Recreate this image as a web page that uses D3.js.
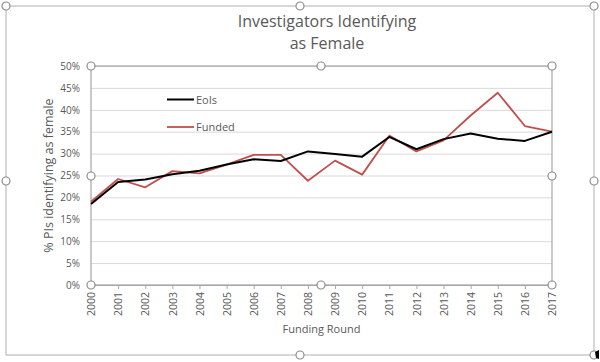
<!DOCTYPE html>
<html>
<head>
<meta charset="utf-8">
<script src="https://cdn.jsdelivr.net/npm/d3@7"></script>
<style>
  body { margin: 0; background: #fff; }
  svg { display: block; font-family: "Open Sans", "Liberation Sans", sans-serif; }
</style>
</head>
<body>
<div id="chart"></div>
<script>
// values (percent)
var years = ["2000","2001","2002","2003","2004","2005","2006","2007","2008","2009",
             "2010","2011","2012","2013","2014","2015","2016","2017"];
var eois   = [18.5, 23.5, 24.1, 25.3, 26.1, 27.5, 28.7, 28.3, 30.5, 29.9,
              29.3, 33.8, 31.0, 33.3, 34.6, 33.4, 32.9, 35.0];
var funded = [19.0, 24.2, 22.3, 26.0, 25.5, 27.5, 29.7, 29.7, 23.8, 28.4,
              25.2, 34.1, 30.5, 33.0, 38.7, 43.9, 36.3, 35.0];
var yTicks = [0, 5, 10, 15, 20, 25, 30, 35, 40, 45, 50];
var seriesNames = ["EoIs", "Funded"];

var W = 600, H = 362;
var grey = "#595959";

var svg = d3.select("#chart").append("svg").attr("width", W).attr("height", H);

// plot area
var pLeft = 91, pRight = 552, pTop = 66, pBottom = 285;

var x = d3.scalePoint().domain(years).range([pLeft, pRight]);
var y = d3.scaleLinear().domain([0, 50]).range([pBottom, pTop]);

// outer chart frame
svg.append("rect")
  .attr("x", 6).attr("y", 6).attr("width", 588).attr("height", 349)
  .attr("fill", "none").attr("stroke", "#b0b0b0").attr("stroke-width", 1);

// gridlines
svg.append("g").selectAll("line")
  .data(yTicks)
  .enter().append("line")
  .attr("x1", pLeft).attr("x2", pRight)
  .attr("y1", function(d) { return y(d) + 0.5; })
  .attr("y2", function(d) { return y(d) + 0.5; })
  .attr("stroke", "#d9d9d9").attr("stroke-width", 1);

// plot area border (selected)
svg.append("rect")
  .attr("x", pLeft).attr("y", pTop).attr("width", pRight - pLeft).attr("height", pBottom - pTop)
  .attr("fill", "none").attr("stroke", "#a6a6a6").attr("stroke-width", 1.2);

// y axis labels
var yAxis = d3.axisLeft(y).tickValues(yTicks).tickSize(0).tickPadding(11)
  .tickFormat(function(d) { return d + "%"; });
var gy = svg.append("g").attr("transform", "translate(" + pLeft + ",0)").call(yAxis);
gy.select(".domain").remove();
gy.selectAll("text").attr("fill", grey).attr("font-size", "10px")
  .attr("font-family", "'Open Sans', sans-serif");

// x axis
var xAxis = d3.axisBottom(x).tickSize(4).tickPadding(3);
var gx = svg.append("g").attr("transform", "translate(0," + pBottom + ")").call(xAxis);
gx.select(".domain").attr("stroke", "#a6a6a6");
gx.selectAll(".tick line").attr("stroke", "#a6a6a6");
gx.selectAll("text")
  .attr("fill", grey).attr("font-size", "10.5px")
  .attr("font-family", "'Open Sans', sans-serif")
  .attr("transform", "rotate(-90)")
  .attr("text-anchor", "end")
  .attr("dy", "0.35em")
  .attr("y", 0)
  .attr("x", -7);

// lines
var line = d3.line()
  .x(function(d, i) { return x(years[i]); })
  .y(function(d) { return y(d); });

svg.append("path").datum(funded)
  .attr("d", line).attr("fill", "none")
  .attr("stroke", "#c0504d").attr("stroke-width", 1.8).attr("stroke-linejoin", "round");
svg.append("path").datum(eois)
  .attr("d", line).attr("fill", "none")
  .attr("stroke", "#000").attr("stroke-width", 2).attr("stroke-linejoin", "round");

// legend
var legendColors = ["#000", "#c0504d"];
var lg = svg.append("g").selectAll("g")
  .data(seriesNames)
  .enter().append("g")
  .attr("transform", function(d, i) { return "translate(167," + (99.5 + i * 27.5) + ")"; });
lg.append("line")
  .attr("x1", 0).attr("x2", 27).attr("y1", 0).attr("y2", 0)
  .attr("stroke", function(d, i) { return legendColors[i]; })
  .attr("stroke-width", function(d, i) { return i == 0 ? 2 : 1.8; });
lg.append("text")
  .attr("x", 29).attr("y", 4)
  .attr("font-size", "11px").attr("fill", grey)
  .text(function(d) { return d; });

// titles
svg.append("text").attr("x", 327).attr("y", 27)
  .attr("text-anchor", "middle").attr("font-size", "16px").attr("fill", grey)
  .text("Investigators Identifying");
svg.append("text").attr("x", 327).attr("y", 49)
  .attr("text-anchor", "middle").attr("font-size", "16px").attr("fill", grey)
  .text("as Female");

svg.append("text")
  .attr("transform", "translate(53," + ((pTop + pBottom) / 2) + ") rotate(-90)")
  .attr("text-anchor", "middle").attr("font-size", "12.5px").attr("fill", grey)
  .text("% PIs identifying as female");

svg.append("text").attr("x", (pLeft + pRight) / 2).attr("y", 333)
  .attr("text-anchor", "middle").attr("font-size", "11px").attr("fill", grey)
  .text("Funding Round");

// selection handles
var handles = [
  [6, 6], [300, 6], [594, 6], [6, 181], [594, 181], [300, 355], [594, 355],
  [pLeft, pTop], [321, pTop], [pRight, pTop], [pLeft, 176], [pRight, 176],
  [pLeft, pBottom], [321, pBottom], [pRight, pBottom]
];
svg.append("g").selectAll("circle")
  .data(handles)
  .enter().append("circle")
  .attr("cx", function(d) { return d[0]; })
  .attr("cy", function(d) { return d[1]; })
  .attr("r", 4)
  .attr("fill", "#fff").attr("stroke", "#8c8c8c").attr("stroke-width", 1.2);

// mouse cursor at the corner handle
svg.append("path")
  .attr("d", "M595,352 L599,350 L599,359 L596,358 Z")
  .attr("fill", "#000");
</script>
</body>
</html>
